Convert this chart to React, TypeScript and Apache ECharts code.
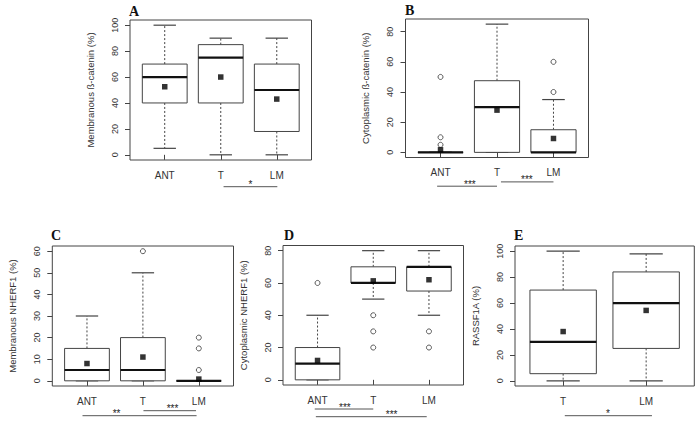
import React, { useEffect, useRef } from "react";
import * as echarts from "echarts";

// ---------- DATA ----------
// box stats: [lower whisker, Q1, median, Q3, upper whisker]
const catsA = ["ANT", "T", "LM"];
const boxA = [[5, 40, 60, 70, 100], [0, 40, 75, 85, 90], [0, 18, 50, 70, 90]];
const meanA = [52.5, 60, 43];
const outA: number[][] = [];
const yTicksA = [0, 20, 40, 60, 80, 100];
const sigA = [{ from: 2.05, to: 3.01, at: 2.53, text: "*" }];

const catsB = ["ANT", "T", "LM"];
const boxB = [[0, 0, 0, 0, 0], [0, 0, 30, 47.5, 85], [0, 0, 0, 15, 35]];
const meanB = [1.7, 28, 9.2];
const outB = [[1, 50], [1, 10], [1, 5], [3, 40], [3, 60]];
const yTicksB = [0, 20, 40, 60, 80];
const sigB = [
  { from: 0.94, to: 2.0, at: 1.52, text: "***" },
  { from: 2.07, to: 3.0, at: 2.53, text: "***" },
];

const catsC = ["ANT", "T", "LM"];
const boxC = [[0, 0, 5, 15, 30], [0, 0, 5, 20, 50], [0, 0, 0, 0, 0]];
const meanC = [8, 11, 0.8];
const outC = [[2, 60], [3, 20], [3, 15], [3, 5]];
const yTicksC = [0, 10, 20, 30, 40, 50, 60];
const sigC = [
  { from: 0.92, to: 2.96, at: 1.53, text: "**" },
  { from: 2.01, to: 2.95, at: 2.53, text: "***" },
];

const catsD = ["ANT", "T", "LM"];
const boxD = [[0, 0, 10, 20, 40], [50, 60, 60, 70, 80], [40, 55, 70, 70, 80]];
const meanD = [12, 61.3, 62];
const outD = [[1, 60], [2, 40], [2, 30], [2, 20], [3, 30], [3, 20]];
const yTicksD = [0, 20, 40, 60, 80];
const sigD = [
  { from: 0.95, to: 2.0, at: 1.49, text: "***" },
  { from: 0.97, to: 2.96, at: 2.33, text: "***" },
];

const catsE = ["T", "LM"];
const boxE = [[0, 5.5, 30, 70, 100], [0, 25, 60, 84, 98]];
const meanE = [38, 54.3];
const outE: number[][] = [];
const yTicksE = [0, 20, 40, 60, 80, 100];
const sigE = [{ from: 1.02, to: 2.07, at: 1.54, text: "*" }];

const yNames = [
  "Membranous ß-catenin (%)",
  "Cytoplasmic ß-catenin (%)",
  "Membranous NHERF1 (%)",
  "Cytoplasmic NHERF1 (%)",
  "RASSF1A (%)",
];
const letters = ["A", "B", "C", "D", "E"];

// ---------- LAYOUT ----------
const grids = [
  { left: 130, top: 20, width: 181.5, height: 140 },
  { left: 405.5, top: 19, width: 183, height: 138.5 },
  { left: 52.3, top: 246, width: 181.2, height: 140 },
  { left: 283, top: 245.5, width: 180.5, height: 139.5 },
  { left: 515, top: 246, width: 179.3, height: 140 },
];
const sigOffsets = [[26.7], [28.7, 24.4], [29.7, 24.7], [24, 31.7], [29.7]];
const letterPos = [
  [129, 4], [405, 3], [51, 228], [284, 228], [514, 228],
];

const panels = [
  { cats: catsA, box: boxA, mean: meanA, out: outA, ticks: yTicksA, sig: sigA },
  { cats: catsB, box: boxB, mean: meanB, out: outB, ticks: yTicksB, sig: sigB },
  { cats: catsC, box: boxC, mean: meanC, out: outC, ticks: yTicksC, sig: sigC },
  { cats: catsD, box: boxD, mean: meanD, out: outD, ticks: yTicksD, sig: sigD },
  { cats: catsE, box: boxE, mean: meanE, out: outE, ticks: yTicksE, sig: sigE },
];

const FONT = "'Liberation Sans', Arial, sans-serif";
const LINE = "#444";
const TEXT = "#333";

function boxRender(params: any, api: any) {
  const x = api.value(0);
  const lo = api.value(1), q1 = api.value(2), med = api.value(3), q3 = api.value(4), hi = api.value(5);
  const hw = 0.4, cw = 0.2;
  const a = api.coord([x - hw, q3]);
  const b = api.coord([x + hw, q1]);
  const c = (xx: number, yy: number) => api.coord([xx, yy]);
  const dash = { stroke: LINE, lineWidth: 1, lineDash: [2, 2] };
  const solid = { stroke: LINE, lineWidth: 1.2 };
  const line = (p1: number[], p2: number[], style: any) => ({
    type: "line",
    shape: { x1: p1[0], y1: p1[1], x2: p2[0], y2: p2[1] },
    style,
  });
  return {
    type: "group",
    children: [
      line(c(x, q3), c(x, hi), dash),
      line(c(x, q1), c(x, lo), dash),
      line(c(x - cw, hi), c(x + cw, hi), solid),
      line(c(x - cw, lo), c(x + cw, lo), solid),
      {
        type: "rect",
        shape: { x: a[0], y: a[1], width: b[0] - a[0], height: b[1] - a[1] },
        style: { fill: "#fff", stroke: LINE, lineWidth: 1 },
      },
      line(c(x - hw, med), c(x + hw, med), { stroke: "#111", lineWidth: 2.2 }),
    ],
  };
}

function makeSigRender(offsets: number[], sig: any[]) {
  return (params: any, api: any) => {
    const i = params.dataIndex;
    const cs = params.coordSys;
    const yb = cs.y + cs.height + offsets[i];
    const p1 = api.coord([api.value(0), 0]);
    const p2 = api.coord([api.value(1), 0]);
    const pt = api.coord([api.value(2), 0]);
    return {
      type: "group",
      children: [
        {
          type: "line",
          shape: { x1: p1[0], y1: yb, x2: p2[0], y2: yb },
          style: { stroke: "#555", lineWidth: 1 },
        },
        {
          type: "text",
          x: pt[0],
          y: yb - 2,
          style: {
            text: sig[i].text,
            fill: "#222",
            textFill: "#222",
            fontSize: 10,
            fontFamily: FONT,
            textAlign: "center",
            align: "center",
            textVerticalAlign: "middle",
            verticalAlign: "middle",
          },
        },
      ],
    };
  };
}

export default function App() {
  const ref = useRef<HTMLDivElement>(null);
  useEffect(() => {
    if (!ref.current) return;
    const chart = echarts.init(ref.current, undefined, { renderer: "svg" });
    const xAxis: any[] = [];
    const yAxis: any[] = [];
    const series: any[] = [];
    const grid: any[] = [];
    panels.forEach((p, i) => {
      const n = p.cats.length;
      const ymaxData = Math.max(...p.box.map((b) => b[4]), ...p.out.map((o) => o[1]));
      const yminData = Math.min(...p.box.map((b) => b[0]), ...p.out.map((o) => o[1]));
      const yr = ymaxData - yminData;
      grid.push({ ...grids[i], show: true, borderColor: LINE, borderWidth: 1, backgroundColor: "#fff" });
      const xv = p.cats.map((_, k) => k + 1);
      xAxis.push({
        gridIndex: i,
        type: "value",
        min: 0.5 - 0.04 * n,
        max: n + 0.5 + 0.04 * n,
        axisLine: { show: false },
        splitLine: { show: false },
        axisTick: { show: true, customValues: xv, length: 5, lineStyle: { color: LINE } },
        axisLabel: {
          show: true,
          customValues: xv,
          formatter: (v: number) => p.cats[Math.round(v) - 1] ?? "",
          fontFamily: FONT,
          fontSize: 10,
          color: TEXT,
          margin: 10,
        },
      });
      yAxis.push({
        gridIndex: i,
        type: "value",
        min: yminData - 0.04 * yr,
        max: ymaxData + 0.04 * yr,
        axisLine: { show: false },
        splitLine: { show: false },
        axisTick: { show: true, customValues: p.ticks, length: 5, lineStyle: { color: LINE } },
        axisLabel: {
          show: true,
          customValues: p.ticks,
          rotate: 90,
          fontFamily: FONT,
          fontSize: 9,
          color: TEXT,
          margin: 11,
        },
        name: yNames[i],
        nameLocation: "middle",
        nameRotate: 90,
        nameGap: 35,
        nameTextStyle: { fontFamily: FONT, fontSize: 9.5, color: TEXT },
      });
      series.push({
        type: "custom",
        xAxisIndex: i,
        yAxisIndex: i,
        renderItem: boxRender,
        clip: false,
        z: 2,
        itemStyle: { color: "#333" },
        encode: { x: 0, y: [1, 2, 3, 4, 5] },
        data: p.box.map((b, k) => [k + 1, ...b]),
      });
      series.push({
        type: "scatter",
        xAxisIndex: i,
        yAxisIndex: i,
        symbol: "circle",
        symbolSize: 5,
        itemStyle: { color: "#fff", borderColor: "#333", borderWidth: 1 },
        z: 3,
        data: p.out.map((o) => [o[0], o[1]]),
      });
      series.push({
        type: "scatter",
        xAxisIndex: i,
        yAxisIndex: i,
        symbol: "rect",
        symbolSize: 5.5,
        itemStyle: { color: "#000" },
        z: 4,
        data: p.mean.map((m, k) => [k + 1, m]),
      });
      series.push({
        type: "custom",
        xAxisIndex: i,
        yAxisIndex: i,
        clip: false,
        z: 2,
        itemStyle: { color: "#222" },
        renderItem: makeSigRender(sigOffsets[i], p.sig),
        encode: { x: [0, 1, 2] },
        data: p.sig.map((s) => [s.from, s.to, s.at]),
      });
    });
    chart.setOption({
      animation: false,
      backgroundColor: "#fff",
      grid,
      xAxis,
      yAxis,
      series,
      graphic: letters.map((l, i) => ({
        type: "text",
        left: letterPos[i][0],
        top: letterPos[i][1],
        style: {
          text: l,
          font: "bold 14px 'Liberation Serif', 'Times New Roman', serif",
          fill: "#111",
        },
      })),
    });
    return () => chart.dispose();
  }, []);
  return (
    <div
      ref={ref}
      style={{ position: "absolute", left: 0, top: 0, width: 700, height: 423, background: "#fff" }}
    />
  );
}
